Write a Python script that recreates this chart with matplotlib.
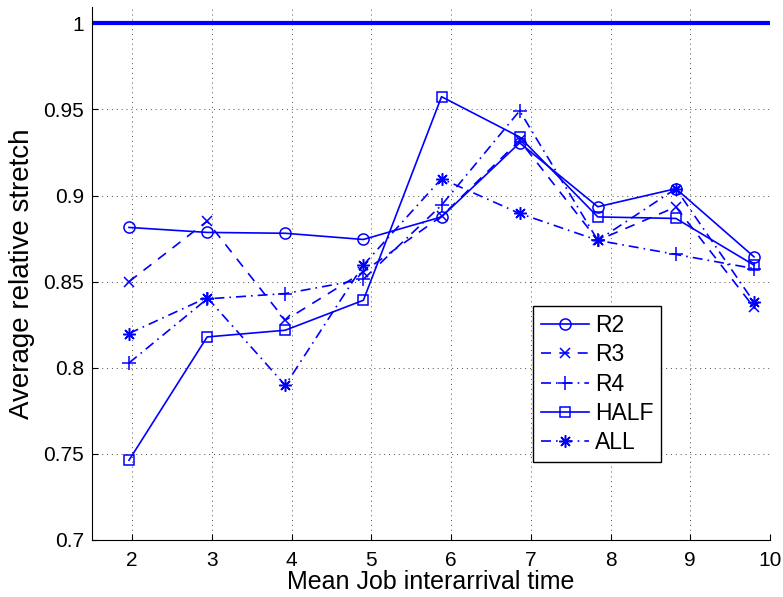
import matplotlib
matplotlib.use("Agg")
import matplotlib.pyplot as plt
from matplotlib.ticker import FormatStrFormatter

# mean job interarrival time (x positions of the samples)
x_vals = [1.96, 2.94, 3.92, 4.90, 5.88, 6.86, 7.84, 8.82, 9.80]

r2 = [0.8815, 0.8786, 0.8781, 0.8745, 0.8876, 0.9306, 0.8935, 0.9040, 0.8644]
r3 = [0.8500, 0.8851, 0.8276, 0.8557, 0.8880, 0.9320, 0.8740, 0.8934, 0.8350]
r4 = [0.8028, 0.8400, 0.8431, 0.8514, 0.8944, 0.9492, 0.8740, 0.8658, 0.8576]
half = [0.7463, 0.8179, 0.8218, 0.8392, 0.9574, 0.9340, 0.8876, 0.8867, 0.8596]
all_ = [0.8199, 0.8408, 0.7898, 0.8597, 0.9098, 0.8896, 0.8740, 0.9040, 0.8380]

baseline = 1.0
x_ticks = [2, 3, 4, 5, 6, 7, 8, 9, 10]
y_ticks = [0.7, 0.75, 0.8, 0.85, 0.9, 0.95, 1.0]

plt.rcParams['font.family'] = ['Liberation Sans', 'DejaVu Sans']

fig = plt.figure(figsize=(7.83, 5.97), dpi=100)
ax = fig.add_axes([0.1179, 0.0955, 0.8655, 0.8928])

blue = (0, 0, 1)
common = dict(color=blue, lw=1.2, markersize=8, markerfacecolor='none',
              markeredgecolor=blue, markeredgewidth=1.1)

ax.axhline(baseline, color=blue, lw=3)
ax.plot(x_vals, r2, '-', marker='o', label='R2', **common)
ax.plot(x_vals, r3, '--', marker='x', label='R3', dashes=(6, 5), **dict(common, markersize=7))
ax.plot(x_vals, r4, '-.', marker='+', label='R4', dashes=(6, 3, 1, 3), **dict(common, markersize=10))
ax.plot(x_vals, half, '-', marker='s', label='HALF', **dict(common, markersize=7))
# MATLAB style asterisk: plus and cross combined
ax.plot(x_vals, all_, '-.', marker=(8, 2, 0), label='ALL', dashes=(6, 3, 1, 3), **dict(common, markersize=9))

ax.set_xlim(1.5, 10)
ax.set_ylim(0.7, 1.0095)
ax.set_xticks(x_ticks)
ax.set_yticks(y_ticks)
ax.yaxis.set_major_formatter(FormatStrFormatter('%g'))
ax.tick_params(direction='in', length=4, width=0.8, labelsize=15)
ax.tick_params(axis='x', pad=8)
ax.tick_params(axis='y', pad=6)
ax.grid(True, linestyle=(0, (1, 4)), color='black', lw=0.7, alpha=0.7)
ax.spines['top'].set_visible(False)
ax.spines['right'].set_visible(False)

ax.set_xlabel('Mean Job interarrival time', fontsize=18, labelpad=0)
ax.set_ylabel('Average relative stretch', fontsize=20, labelpad=6)

leg = ax.legend(loc='upper left', bbox_to_anchor=(0.650, 0.4396), borderaxespad=0,
                fontsize=16.5, fancybox=False, framealpha=1, edgecolor='black',
                handlelength=2.1, handletextpad=0.26, labelspacing=0.28, borderpad=0.35)
leg.get_frame().set_linewidth(1.0)

fig.savefig('out.png', dpi=100)
